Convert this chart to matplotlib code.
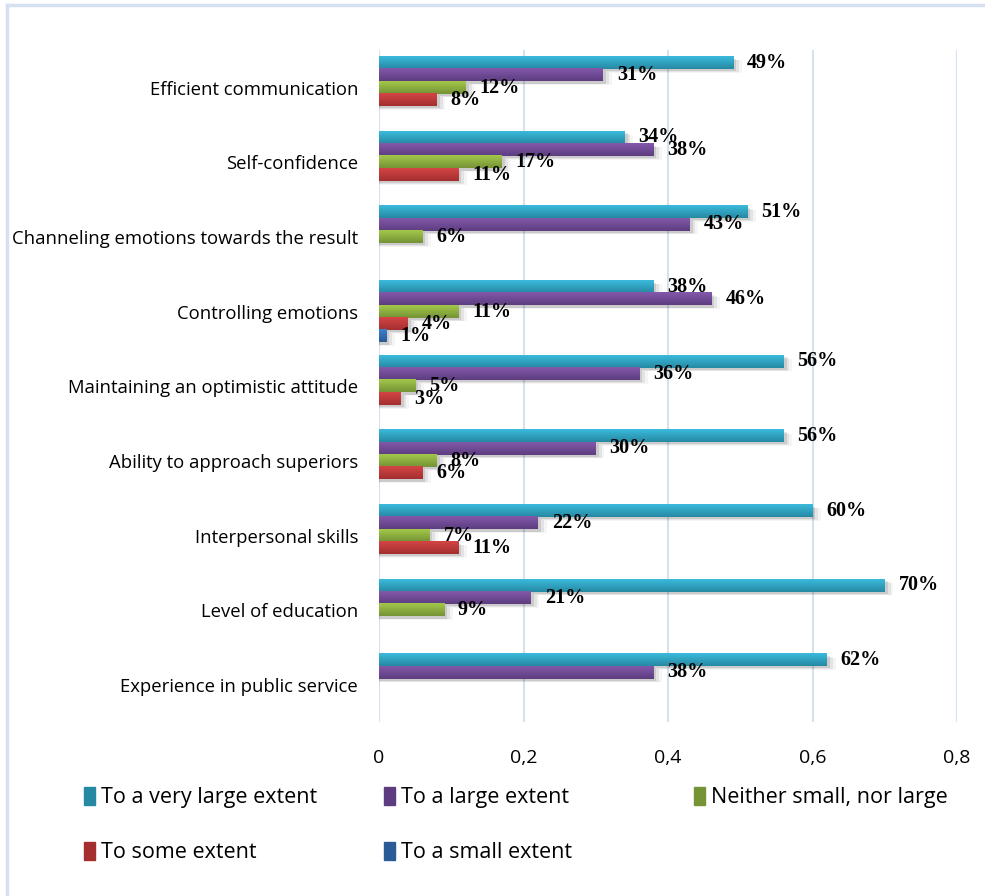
import numpy as np
import matplotlib
matplotlib.use('Agg')
import matplotlib.pyplot as plt
from matplotlib.colors import LinearSegmentedColormap
from matplotlib.patches import Rectangle
from matplotlib.ticker import FuncFormatter

categories = ['Efficient communication', 'Self-confidence',
              'Channeling emotions towards the result', 'Controlling emotions',
              'Maintaining an optimistic attitude', 'Ability to approach superiors',
              'Interpersonal skills', 'Level of education', 'Experience in public service']

series_names = ['To a very large extent', 'To a large extent', 'Neither small, nor large',
                'To some extent', 'To a small extent']

# percentages per category, None = no bar
very_large = [49, 34, 51, 38, 56, 56, 60, 70, 62]
large = [31, 38, 43, 46, 36, 30, 22, 21, 38]
neither = [12, 17, 6, 11, 5, 8, 7, 9, None]
some = [8, 11, None, 4, 3, 6, 11, None, None]
small = [None, None, None, 1, None, None, None, None, None]

# (light top, dark bottom) for the shaded bars
shades = [('#3bbbdc', '#2689a3'), ('#8359ab', '#5d3d80'), ('#a2c84a', '#769336'),
          ('#d44545', '#a52e2e'), ('#3d7fcb', '#2a5b96')]

all_series = [very_large, large, neither, some, small]

fig = plt.figure(figsize=(9.85, 8.96), dpi=100)
ax = fig.add_axes([0.3848, 0.194, 0.9716 - 0.3848, 0.944 - 0.194])

# outer chart frame
fig.add_artist(plt.Line2D([7/985, 7/985], [0, 1 - 5/896], transform=fig.transFigure,
                          color='#d5e1f1', lw=2.5))
fig.add_artist(plt.Line2D([7/985, 1], [1 - 5/896, 1 - 5/896], transform=fig.transFigure,
                          color='#d5e1f1', lw=2.5))

h = 0.166
y = np.arange(len(categories))

for i, (vals, (c1, c2)) in enumerate(zip(all_series, shades)):
    cmap = LinearSegmentedColormap.from_list('s%d' % i, [c1, c2])
    grad = np.linspace(0, 1, 32).reshape(-1, 1)
    off = (i - 2) * h
    for j, v in enumerate(vals):
        if v is None:
            continue
        w = v / 100.0
        yc = y[j] + off
        # soft shadow
        for k, a in enumerate([0.10, 0.07, 0.04]):
            d = 0.004 * (k + 1)
            ax.add_patch(Rectangle((0, yc - h/2 + 0.03 + 0.01 * k), w + d, h,
                                   color='black', alpha=a, lw=0, zorder=1))
        ax.imshow(grad, cmap=cmap, aspect='auto', zorder=2,
                  extent=[0, w, yc + h/2, yc - h/2], interpolation='bilinear')
        ax.annotate('%d%%' % v, (w, yc), xytext=(10, 0), textcoords='offset points',
                    va='center', ha='left', fontsize=14.5, fontweight='bold',
                    family='Liberation Serif', zorder=4)

ax.set_xlim(0, 0.8)
ax.set_ylim(len(categories) - 0.5, -0.5)
ax.set_xticks([0, 0.2, 0.4, 0.6, 0.8])
ax.xaxis.set_major_formatter(FuncFormatter(lambda v, p: ('%g' % round(v, 1)).replace('.', ',')))
ax.set_yticks(y)
ax.set_yticklabels(categories)
ax.grid(axis='x', color='#d5e1f1', lw=1.5, zorder=0)
ax.set_axisbelow(True)
for s in ax.spines.values():
    s.set_visible(False)
ax.tick_params(length=0)
ax.tick_params(axis='y', pad=15, labelsize=13.3)
ax.tick_params(axis='x', pad=19, labelsize=14)
for t in ax.get_xticklabels() + ax.get_yticklabels():
    t.set_family(['Open Sans', 'DejaVu Sans'])

# legend: one column per anchor, filled row-wise like the series order
handles = [Rectangle((0, 0), 1, 1, color=c[1]) for c in shades]
columns = [([0, 3], 84), ([1, 4], 384), ([2], 694)]
for idx, xpix in columns:
    fig.legend([handles[k] for k in idx], [series_names[k] for k in idx],
               loc='upper left', bbox_to_anchor=(xpix/985, 1 - 787/896),
               frameon=False, handlelength=0.5, handleheight=0.9, handletextpad=0.3,
               labelspacing=1.55, borderpad=0, borderaxespad=0,
               prop={'family': ['Open Sans', 'DejaVu Sans'], 'size': 15.5})

fig.savefig('out.png', dpi=100)
